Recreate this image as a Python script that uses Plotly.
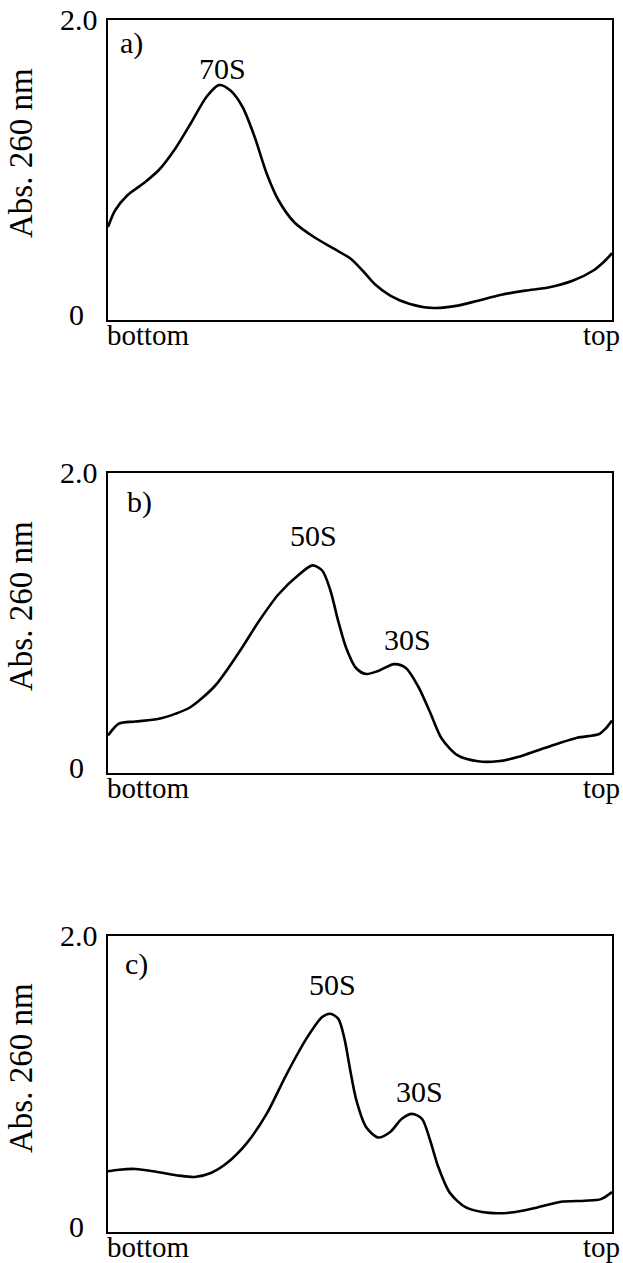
import plotly.graph_objects as go

# ---------------- data ----------------
panel_names = ["a)", "b)", "c)"]
y_ticks = [0, 2.0]
y_tick_labels = ["0", "2.0"]
x_end_labels = ["bottom", "top"]
y_title = "Abs. 260 nm"

# panel a
a_x = [0, 1.4, 3.8, 7.0, 10.1, 13.3, 16.4, 19.6, 22.0, 24.3, 26.7, 29.1, 31.5, 33.8, 37.0,
       41.0, 44.9, 48.1, 50.5, 52.9, 56.0, 59.9, 64.7, 69.4, 73.4, 78.1, 82.8, 87.6, 92.3,
       96.3, 98.3, 100]
a_y = [0.62, 0.73, 0.83, 0.91, 1.00, 1.14, 1.31, 1.49, 1.566, 1.53, 1.42, 1.22, 0.975, 0.80,
       0.65, 0.55, 0.474, 0.41, 0.33, 0.24, 0.163, 0.107, 0.08, 0.096, 0.129, 0.169, 0.196,
       0.218, 0.263, 0.33, 0.385, 0.445]
a_peaks = ["70S"]
a_peak_x = [22.8]
a_peak_y = [1.68]

# panel b
b_x = [0, 2.2, 5.4, 10.1, 13.3, 16.4, 21.2, 25.9, 29.9, 33.8, 37.8, 40.6, 42.5, 44.1, 45.7,
       47.3, 49.2, 51.2, 53.6, 56.8, 59.1, 61.5, 63.9, 66.2, 69.4, 73.4, 77.3, 81.3, 85.2,
       89.2, 93.1, 97.5, 98.7, 100]
b_y = [0.25, 0.33, 0.343, 0.361, 0.394, 0.44, 0.58, 0.80, 1.01, 1.19, 1.32, 1.384, 1.35, 1.22,
       1.01, 0.83, 0.70, 0.66, 0.68, 0.726, 0.70, 0.58, 0.405, 0.23, 0.117, 0.078, 0.078,
       0.106, 0.15, 0.195, 0.235, 0.26, 0.295, 0.35]
b_peaks = ["50S", "30S"]
b_peak_x = [40.7, 59.5]
b_peak_y = [1.586, 0.893]

# panel c
c_x = [0, 2.2, 5.4, 10.1, 14.1, 17.2, 20.4, 23.6, 27.5, 31.5, 35.4, 39.4, 42.5, 44.1, 45.7,
       46.9, 48.1, 49.3, 51.2, 53.6, 56.0, 58.3, 60.3, 62.3, 63.9, 65.5, 67.8, 71.0, 75.7,
       80.5, 85.2, 89.9, 94.6, 97.8, 100]
c_y = [0.41, 0.421, 0.426, 0.404, 0.381, 0.372, 0.399, 0.466, 0.599, 0.80, 1.064, 1.308,
       1.452, 1.475, 1.44, 1.308, 1.086, 0.887, 0.71, 0.639, 0.676, 0.765, 0.798, 0.765,
       0.621, 0.443, 0.266, 0.166, 0.129, 0.133, 0.166, 0.204, 0.211, 0.222, 0.27]
c_peaks = ["50S", "30S"]
c_peak_x = [44.6, 61.9]
c_peak_y = [1.674, 0.949]

panel_label_x = [2.0, 3.4, 3.0]
panel_label_y = [1.85, 1.81, 1.81]

# ---------------- layout ----------------
W, H = 623, 1263
FONT = "Liberation Serif, Times New Roman, serif"
x_dom = [108 / W, 612 / W]
panel_px = [(20, 320), (473, 773), (936, 1232)]
title_centers = [153, 606, 1068]

series = [(a_x, a_y, a_peaks, a_peak_x, a_peak_y),
          (b_x, b_y, b_peaks, b_peak_x, b_peak_y),
          (c_x, c_y, c_peaks, c_peak_x, c_peak_y)]

fig = go.Figure()
annotations = []
layout_axes = {}

for i, (xs, ys, pk, pkx, pky) in enumerate(series):
    n = "" if i == 0 else str(i + 1)
    xa, ya = "x" + n, "y" + n
    fig.add_trace(go.Scatter(x=xs, y=ys, mode="lines", xaxis=xa, yaxis=ya,
                             line=dict(color="black", width=2.6, shape="spline", smoothing=0.8),
                             showlegend=False, hoverinfo="skip"))
    top_px, bot_px = panel_px[i]
    layout_axes["xaxis" + n] = dict(domain=x_dom, range=[0, 100], showline=True, mirror=True,
                                    linecolor="black", linewidth=2.2, showgrid=False,
                                    zeroline=False, showticklabels=False, ticks="",
                                    anchor=ya)
    layout_axes["yaxis" + n] = dict(domain=[1 - bot_px / H, 1 - top_px / H], range=[0, 2.0],
                                    showline=True, mirror=True, linecolor="black", linewidth=2.2,
                                    showgrid=False, zeroline=False, showticklabels=False,
                                    ticks="", anchor=xa)
    # y tick labels
    for v, t, xc, ys_ in zip(y_ticks, y_tick_labels, [76, 79], [6, 1]):
        annotations.append(dict(x=xc / W, xref="paper", y=v, yref=ya, text=t,
                                showarrow=False, xanchor="center", yanchor="middle",
                                yshift=ys_, font=dict(family=FONT, size=30, color="black")))
    # bottom / top labels
    annotations.append(dict(x=0, xref=xa, y=0, yref=ya, text=x_end_labels[0], showarrow=False,
                            xanchor="left", yanchor="top", xshift=-3, yshift=3,
                            font=dict(family=FONT, size=29, color="black")))
    annotations.append(dict(x=100, xref=xa, y=0, yref=ya, text=x_end_labels[1], showarrow=False,
                            xanchor="right", yanchor="top", xshift=10, yshift=3,
                            font=dict(family=FONT, size=29, color="black")))
    # panel letter
    annotations.append(dict(x=panel_label_x[i], xref=xa, y=panel_label_y[i], yref=ya,
                            text=panel_names[i], showarrow=False, xanchor="left",
                            yanchor="middle", font=dict(family=FONT, size=30, color="black")))
    # peak labels
    for t, px, py in zip(pk, pkx, pky):
        annotations.append(dict(x=px, xref=xa, y=py, yref=ya, text=t, showarrow=False,
                                xanchor="center", yanchor="middle",
                                font=dict(family=FONT, size=30, color="black")))
    # y title
    annotations.append(dict(x=21 / W, xref="paper", y=1 - title_centers[i] / H, yref="paper",
                            text=y_title, textangle=-90, showarrow=False, xanchor="center",
                            yanchor="middle", font=dict(family=FONT, size=33, color="black")))

fig.update_layout(width=W, height=H, margin=dict(l=0, r=0, t=0, b=0),
                  paper_bgcolor="white", plot_bgcolor="white",
                  annotations=annotations, **layout_axes)

fig.write_html("out.html", config={"displayModeBar": False},
               post_script="document.body.style.margin='0';document.body.style.overflow='hidden';")
